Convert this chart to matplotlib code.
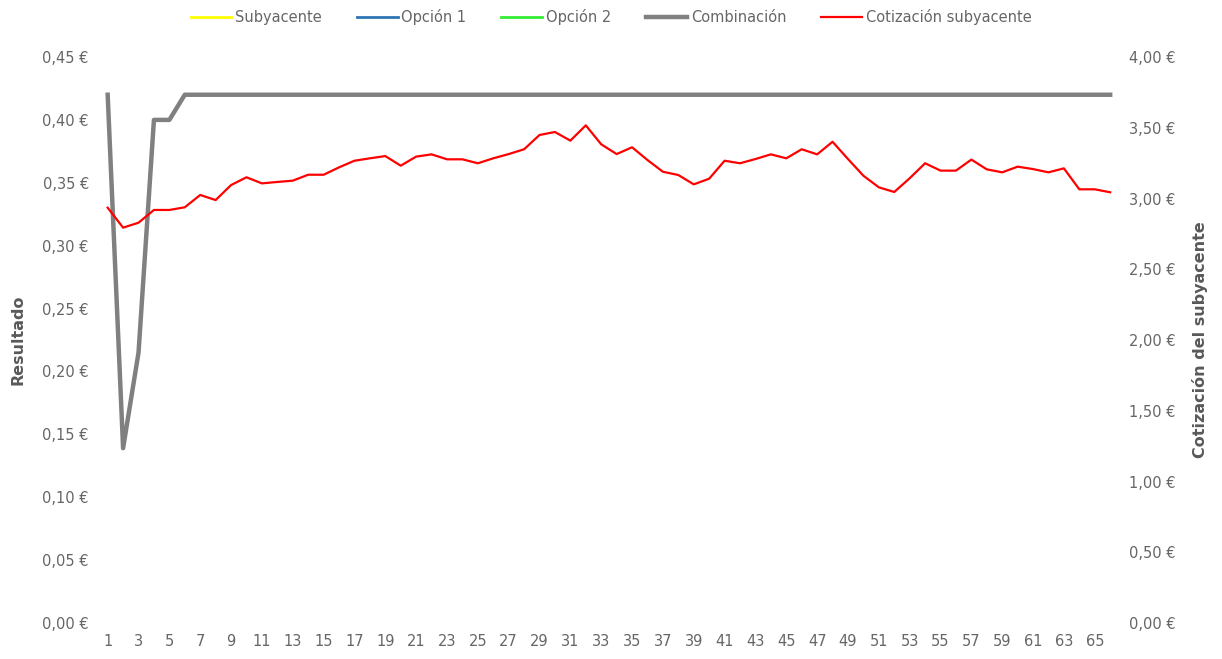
import matplotlib.pyplot as plt
from matplotlib.ticker import FuncFormatter

# dias (eje de categorias)
dias = list(range(1, 67))

# resultado de la combinacion (eje izquierdo)
combinacion = [0.42, 0.139, 0.215, 0.40, 0.40] + [0.42] * 61

# cotizacion del subyacente (eje derecho)
cotizacion = [2.935, 2.794, 2.829, 2.919, 2.919, 2.938, 3.025, 2.989, 3.095, 3.150,
              3.107, 3.117, 3.126, 3.168, 3.168, 3.220, 3.267, 3.284, 3.300, 3.232,
              3.296, 3.312, 3.277, 3.277, 3.249, 3.284, 3.314, 3.348, 3.449, 3.470,
              3.409, 3.517, 3.383, 3.314, 3.362, 3.272, 3.189, 3.166, 3.100, 3.140,
              3.267, 3.249, 3.279, 3.312, 3.284, 3.348, 3.312, 3.401, 3.279, 3.161,
              3.079, 3.046, 3.143, 3.249, 3.197, 3.197, 3.275, 3.206, 3.185, 3.225,
              3.208, 3.185, 3.213, 3.065, 3.065, 3.044]

# series sin valores visibles en el rango del grafico
subyacente = []
opcion1 = []
opcion2 = []

gris = '#666666'

def euros(v, pos):
    return f"{v:.2f} €".replace('.', ',')

fig = plt.figure(figsize=(12.22, 6.59), dpi=100)
ax = fig.add_axes([0.0818, 0.0546, 0.833, 0.8589])
ax2 = ax.twinx()

l1, = ax.plot(subyacente, subyacente, color='#FFFF00', lw=2)
l2, = ax.plot(opcion1, opcion1, color='#2E75B6', lw=2)
l3, = ax.plot(opcion2, opcion2, color='#33EE33', lw=2)
l4, = ax.plot(dias, combinacion, color='#808080', lw=3.2, zorder=3)
l5, = ax2.plot(dias, cotizacion, color='#FF0000', lw=1.6)

ax.set_ylim(0, 0.45)
ax.set_yticks([i * 0.05 for i in range(10)])
ax2.set_ylim(0, 4.0)
ax2.set_yticks([i * 0.5 for i in range(9)])
ax.set_xlim(0.5, 66.5)
ax.set_xticks(dias[::2])

ax.yaxis.set_major_formatter(FuncFormatter(euros))
ax2.yaxis.set_major_formatter(FuncFormatter(euros))

for a in (ax, ax2):
    for s in a.spines.values():
        s.set_visible(False)
    a.tick_params(length=0, labelsize=10.5, labelcolor=gris, pad=8)

ax.set_ylabel('Resultado', fontsize=11.5, fontweight='bold', color='#595959', labelpad=12)
ax2.set_ylabel('Cotización del subyacente', fontsize=11.5, fontweight='bold', color='#595959', labelpad=12)

fig.legend([l1, l2, l3, l4, l5],
           ['Subyacente', 'Opción 1', 'Opción 2', 'Combinación', 'Cotización subyacente'],
           loc='upper center', bbox_to_anchor=(0.5, 1.006), ncol=5, frameon=False,
           fontsize=10.5, labelcolor=gris, handlelength=2.8, handletextpad=0.25,
           columnspacing=2.4)

plt.savefig('out.png', dpi=100)
